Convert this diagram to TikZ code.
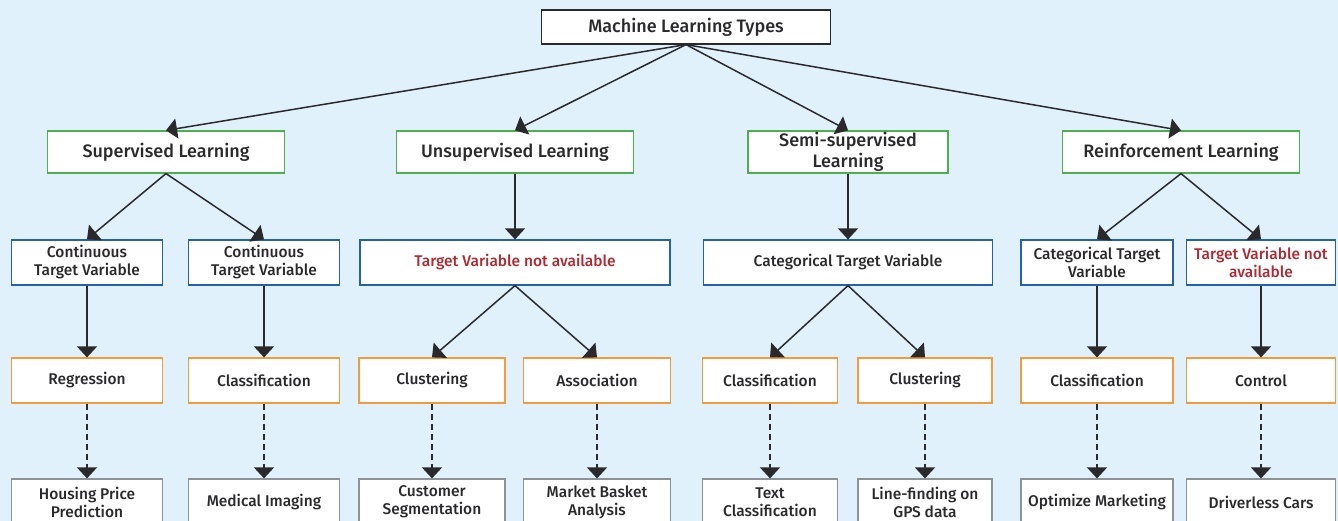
\documentclass[tikz,border=0pt]{standalone}
\usepackage{fontspec}
\setmainfont{Fira Sans}[UprightFont=* Medium]
\usetikzlibrary{arrows.meta}
\definecolor{mlbg}{HTML}{E0F1FC}
\definecolor{mltext}{HTML}{2A2A2C}
\definecolor{mlgreen}{HTML}{4CB050}
\definecolor{mlblue}{HTML}{2462AE}
\definecolor{mlorange}{HTML}{F39A3C}
\definecolor{mlgray}{HTML}{8C9299}
\definecolor{mlred}{HTML}{B02A33}

\begin{document}
\begin{tikzpicture}[x=1pt,y=-1pt,font=\fontsize{15.5}{18}\selectfont,
  box/.style={draw,fill=white,line width=1.2pt,inner sep=0pt,align=center,text=mltext},
  topbox/.style={box,draw=mltext,minimum width=289pt,minimum height=34pt,font=\fontsize{18}{21}\selectfont},
  kind/.style={box,draw=mlgreen,minimum height=42pt,font=\fontsize{18}{21}\selectfont},
  target/.style={box,draw=mlblue,minimum height=45pt},
  task/.style={box,draw=mlorange,minimum height=45pt},
  usecase/.style={box,draw=mlgray,minimum height=46pt},
  link/.style={draw=mltext,line width=1.5pt,-{Triangle[width=20pt,length=11pt]}},
  weak/.style={link,dashed,dash pattern=on 6pt off 4pt}]
\fill[mlbg] (0,0) rectangle (1338,521);
\useasboundingbox (0,0) rectangle (1338,521);
% top
\node[topbox] (mltypes) at (686,27) {Machine Learning Types};
% learning kinds
\node[kind,minimum width=237pt] (sup) at (166,152) {Supervised Learning};
\node[kind,minimum width=237pt] (unsup) at (515,152) {Unsupervised Learning};
\node[kind,minimum width=200pt] (semi) at (848,152) {Semi-supervised\\Learning};
\node[kind,minimum width=237pt] (reinf) at (1181,152) {Reinforcement Learning};
% targets
\node[target,minimum width=151pt] (supa) at (87,262.5) {Continuous\\Target Variable};
\node[target,minimum width=151pt] (supb) at (264,262.5) {Continuous\\Target Variable};
\node[target,minimum width=310pt,text=mlred] (unsupa) at (515,262.5) {Target Variable not available};
\node[target,minimum width=289pt] (semia) at (848,262.5) {Categorical Target Variable};
\node[target,minimum width=152pt] (reinfa) at (1097,262.5) {Categorical Target\\Variable};
\node[target,minimum width=149pt,text=mlred] (reinfb) at (1261,262.5) {Target Variable not\\available};
% tasks
\node[task,minimum width=151pt] (regr) at (87,380.5) {Regression};
\node[task,minimum width=151pt] (clsa) at (264,380.5) {Classification};
\node[task,minimum width=146pt] (clua) at (432,380.5) {Clustering};
\node[task,minimum width=147pt] (assoc) at (597,380.5) {Association};
\node[task,minimum width=135pt] (clsb) at (770,380.5) {Classification};
\node[task,minimum width=134pt] (club) at (925,380.5) {Clustering};
\node[task,minimum width=152pt] (clsc) at (1097,380.5) {Classification};
\node[task,minimum width=149pt] (ctrl) at (1261,380.5) {Control};
% use cases
\node[usecase,minimum width=151pt] (house) at (87,502) {Housing Price\\Prediction};
\node[usecase,minimum width=151pt] (medic) at (264,502) {Medical Imaging};
\node[usecase,minimum width=146pt] (custo) at (432,502) {Customer\\Segmentation};
\node[usecase,minimum width=147pt] (basket) at (597,502) {Market Basket\\Analysis};
\node[usecase,minimum width=135pt] (textc) at (770,502) {Text\\Classification};
\node[usecase,minimum width=134pt] (gps) at (925,502) {Line-finding on\\GPS data};
\node[usecase,minimum width=152pt] (market) at (1097,502) {Optimize Marketing};
\node[usecase,minimum width=149pt] (cars) at (1261,502) {Driverless Cars};
% connectors
\draw[link] (mltypes.south) -- (sup.north);
\draw[link] (mltypes.south) -- (unsup.north);
\draw[link] (mltypes.south) -- (semi.north);
\draw[link] (mltypes.south) -- (reinf.north);
\draw[link] (sup.south) -- (supa.north);
\draw[link] (sup.south) -- (supb.north);
\draw[link] (unsup.south) -- (unsupa.north);
\draw[link] (semi.south) -- (semia.north);
\draw[link] (reinf.south) -- (reinfa.north);
\draw[link] (reinf.south) -- (reinfb.north);
\draw[link] (supa.south) -- (regr.north);
\draw[link] (supb.south) -- (clsa.north);
\draw[link] (unsupa.south) -- (clua.north);
\draw[link] (unsupa.south) -- (assoc.north);
\draw[link] (semia.south) -- (clsb.north);
\draw[link] (semia.south) -- (club.north);
\draw[link] (reinfa.south) -- (clsc.north);
\draw[link] (reinfb.south) -- (ctrl.north);
\draw[weak] (regr.south) -- (house.north);
\draw[weak] (clsa.south) -- (medic.north);
\draw[weak] (clua.south) -- (custo.north);
\draw[weak] (assoc.south) -- (basket.north);
\draw[weak] (clsb.south) -- (textc.north);
\draw[weak] (club.south) -- (gps.north);
\draw[weak] (clsc.south) -- (market.north);
\draw[weak] (ctrl.south) -- (cars.north);
\end{tikzpicture}
\end{document}
